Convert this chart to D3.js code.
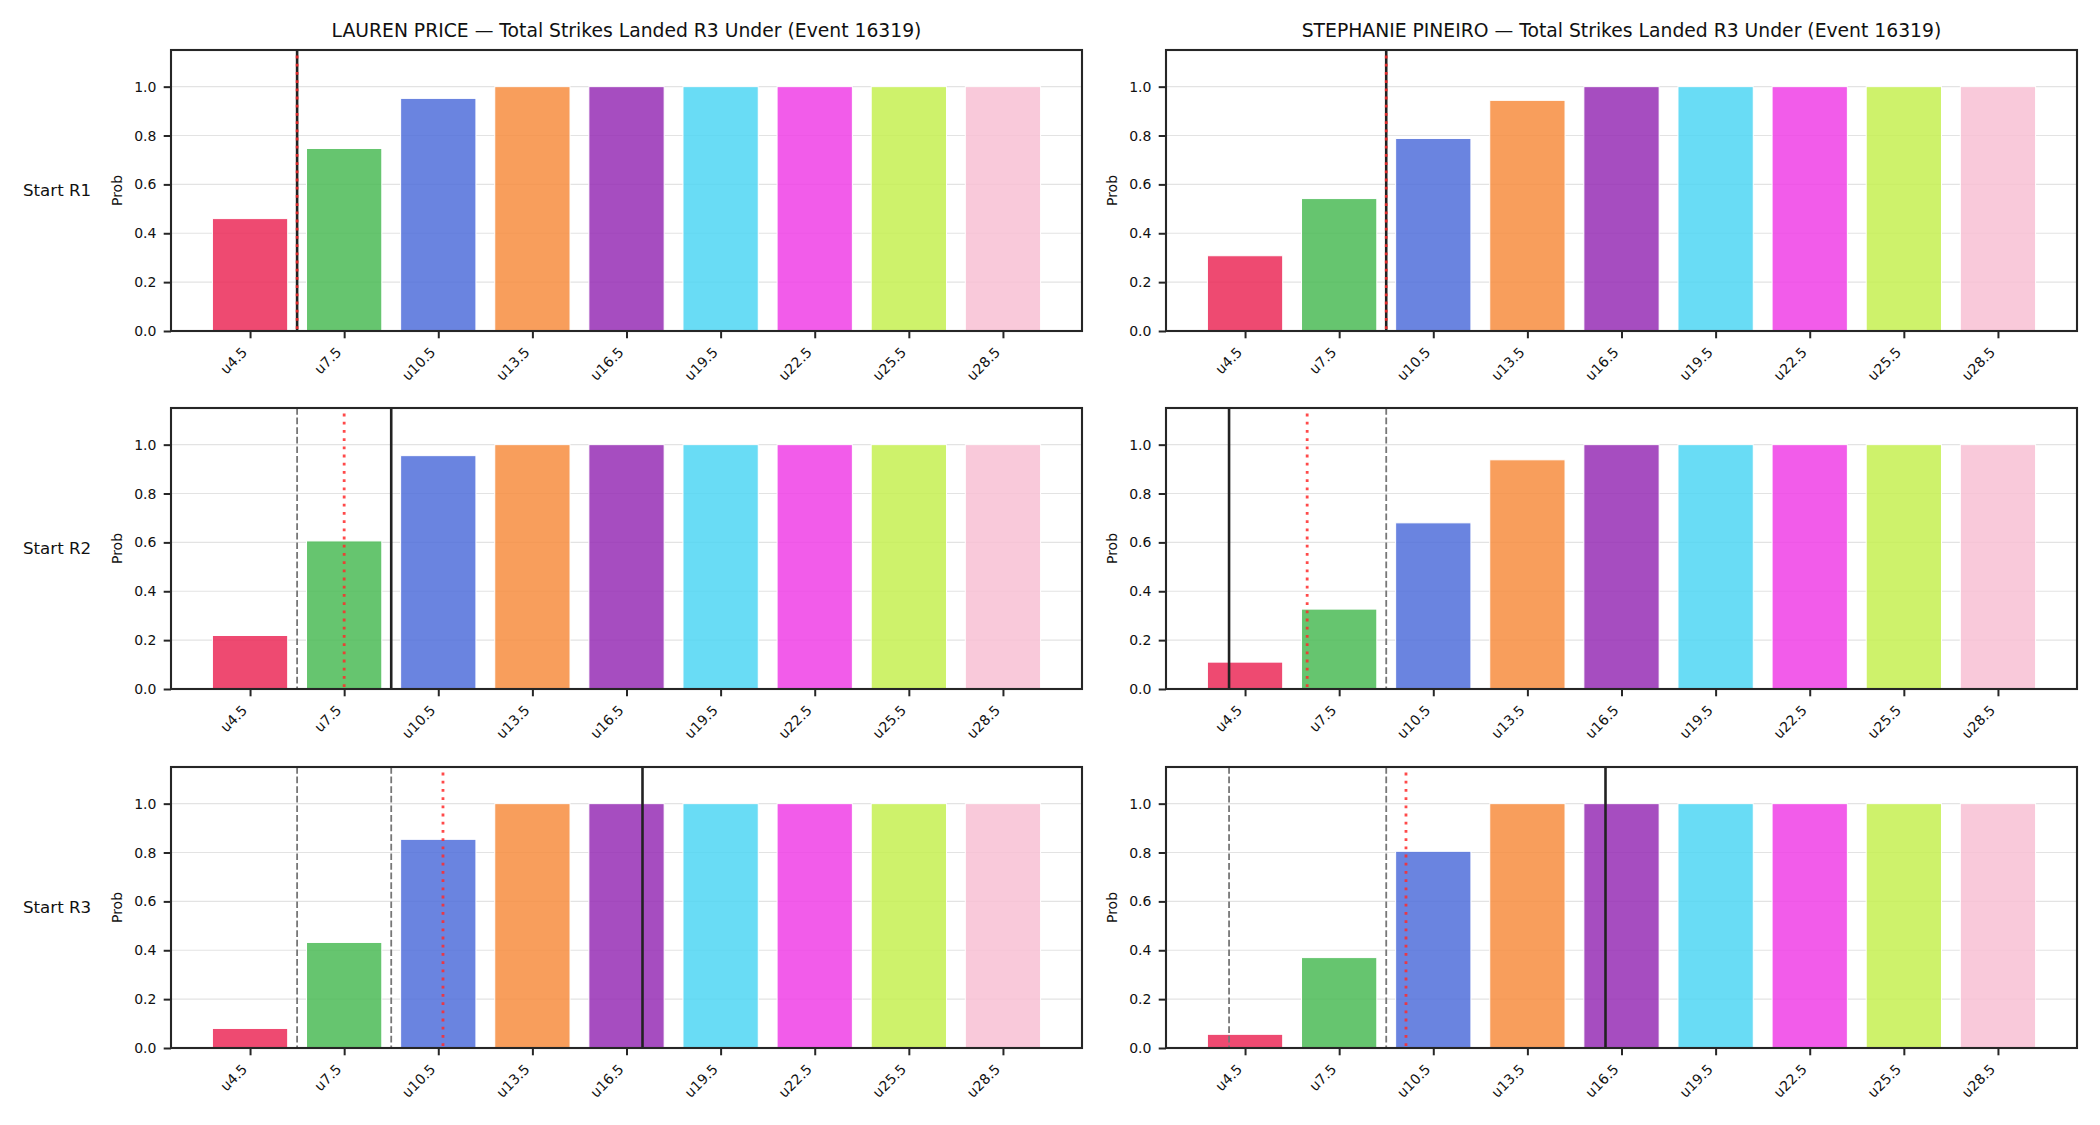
<!DOCTYPE html>
<html>
<head>
<meta charset="utf-8">
<script src="https://cdn.jsdelivr.net/npm/d3@7"></script>
<style>
  html, body { margin: 0; padding: 0; background: #fff; }
  svg { display: block; font-family: "DejaVu Sans", sans-serif; }
</style>
</head>
<body>
<svg id="chart" width="2100" height="1125"></svg>
<script>
// ---------------- data ----------------
const categories = ["u4.5", "u7.5", "u10.5", "u13.5", "u16.5", "u19.5", "u22.5", "u25.5", "u28.5"];
const rowLabels = ["Start R1", "Start R2", "Start R3"];
const fighters = ["LAUREN PRICE", "STEPHANIE PINEIRO"];
const titleSuffix = " — Total Strikes Landed R3 Under (Event 16319)";

const priceR1 = [0.46, 0.747, 0.952, 1, 1, 1, 1, 1, 1];
const priceR2 = [0.219, 0.606, 0.955, 1, 1, 1, 1, 1, 1];
const priceR3 = [0.08, 0.432, 0.854, 1, 1, 1, 1, 1, 1];
const pineiroR1 = [0.308, 0.542, 0.788, 0.944, 1, 1, 1, 1, 1];
const pineiroR2 = [0.11, 0.327, 0.68, 0.938, 1, 1, 1, 1, 1];
const pineiroR3 = [0.056, 0.37, 0.805, 1, 1, 1, 1, 1, 1];

// marker lines, in category-index units (solid = current, dotted = reference)
const priceSolid = [0.5, 1.5, 4.17];
const priceDotted = [0.5, 1.0, 2.05];
const pineiroSolid = [1.5, -0.17, 3.83];
const pineiroDotted = [1.5, 0.66, 1.71];

const yTicks = [0, 0.2, 0.4, 0.6, 0.8, 1.0];
const barColors = ["#EB2A58", "#4BBB56", "#506EDA", "#F78D3F", "#962EB5", "#4FD6F3", "#F03FE6", "#C5F051", "#F8C0D3"];

const panelValues = [[priceR1, priceR2, priceR3], [pineiroR1, pineiroR2, pineiroR3]];
const panelSolid = [priceSolid, pineiroSolid];
const panelDotted = [priceDotted, pineiroDotted];

// ---------------- layout ----------------
const svg = d3.select("#chart");
const colX = [171, 1166];
const axW = 911;
const rowY = [50, 408, 767];
const axH = 281;
const tickLen = 7.3, tickPad = 7.3;
const tickFont = 14;

for (let c = 0; c < 2; c++) {
  for (let r = 0; r < 3; r++) {
    const x0 = colX[c], y0 = rowY[r];
    const x = d3.scaleLinear().domain([-0.84, 8.84]).range([x0, x0 + axW]);
    const y = d3.scaleLinear().domain([0, 1.15]).range([y0 + axH, y0]);
    const g = svg.append("g");

    // grid
    g.append("g").selectAll("line").data(yTicks).join("line")
      .attr("x1", x0).attr("x2", x0 + axW)
      .attr("y1", d => y(d)).attr("y2", d => y(d))
      .attr("stroke", "#e3e3e3").attr("stroke-width", 1.2);

    // bars
    const vals = panelValues[c][r];
    g.append("g").selectAll("rect").data(vals).join("rect")
      .attr("x", (d, i) => x(i - 0.4))
      .attr("width", (d, i) => x(i + 0.4) - x(i - 0.4))
      .attr("y", d => y(d))
      .attr("height", d => y(0) - y(d))
      .attr("fill", (d, i) => barColors[i])
      .attr("fill-opacity", 0.85)
      .attr("stroke", "#fff").attr("stroke-width", 1);

    // previous-round solid lines as grey dashed
    const prev = panelSolid[c].slice(0, r);
    g.append("g").selectAll("line").data(prev).join("line")
      .attr("x1", d => x(d)).attr("x2", d => x(d))
      .attr("y1", y0).attr("y2", y0 + axH)
      .attr("stroke", "#777").attr("stroke-width", 1.8)
      .attr("stroke-dasharray", "6.7,2.9");

    // current solid
    const s = panelSolid[c][r];
    g.append("line")
      .attr("x1", x(s)).attr("x2", x(s))
      .attr("y1", y0).attr("y2", y0 + axH)
      .attr("stroke", "#222").attr("stroke-width", 2.6);

    // dotted reference
    const dv = panelDotted[c][r];
    g.append("line")
      .attr("x1", x(dv)).attr("x2", x(dv))
      .attr("y1", y0 + axH * 0.02).attr("y2", y0 + axH)
      .attr("stroke", "#ff2a2a").attr("stroke-opacity", 0.85).attr("stroke-width", 2.8)
      .attr("stroke-dasharray", "2.8,5.4");

    // frame
    g.append("rect").attr("x", x0).attr("y", y0).attr("width", axW).attr("height", axH)
      .attr("fill", "none").attr("stroke", "#262626").attr("stroke-width", 2.1);

    // y axis
    const ya = g.append("g").attr("transform", `translate(${x0},0)`)
      .call(d3.axisLeft(y).tickValues(yTicks).tickFormat(d3.format(".1f"))
        .tickSize(tickLen).tickPadding(tickPad));
    ya.select(".domain").remove();
    ya.selectAll(".tick line").attr("stroke", "#262626").attr("stroke-width", 2);
    ya.selectAll(".tick text").attr("font-size", tickFont + "px").attr("fill", "#111")
      .attr("font-family", "DejaVu Sans");

    // x axis
    const xa = g.append("g").attr("transform", `translate(0,${y0 + axH})`)
      .call(d3.axisBottom(x).tickValues(d3.range(categories.length))
        .tickFormat(i => categories[i]).tickSize(tickLen).tickPadding(0));
    xa.select(".domain").remove();
    xa.selectAll(".tick line").attr("stroke", "#262626").attr("stroke-width", 2);
    xa.selectAll(".tick text")
      .attr("font-size", tickFont + "px").attr("fill", "#111").attr("font-family", "DejaVu Sans")
      .attr("dy", null).attr("y", null)
      .attr("text-anchor", "end")
      .attr("transform", `translate(-2.4,${tickLen + tickPad + 7.5}) rotate(-45)`);

    // y label
    g.append("text")
      .attr("transform", `translate(${x0 - 49.5},${y0 + axH / 2}) rotate(-90)`)
      .attr("text-anchor", "middle").attr("font-size", tickFont + "px").attr("fill", "#111")
      .text("Prob");

    // title
    if (r === 0) {
      g.append("text").attr("x", x0 + axW / 2).attr("y", 37)
        .attr("text-anchor", "middle").attr("font-size", "18.75px").attr("fill", "#111")
        .text(fighters[c] + titleSuffix);
    }
    // row label
    if (c === 0) {
      g.append("text").attr("x", 23).attr("y", y0 + axH / 2 + 5)
        .attr("font-size", "16.67px").attr("fill", "#111")
        .text(rowLabels[r]);
    }
  }
}
</script>
</body>
</html>
